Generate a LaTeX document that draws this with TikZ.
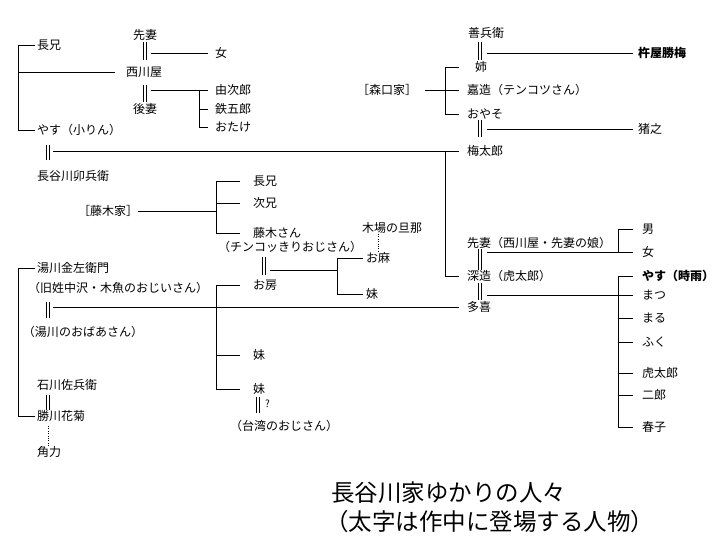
\documentclass[tikz,border=0pt]{standalone}
\usepackage{fontspec}
\setmainfont{Noto Sans CJK JP}
\begin{document}
\begin{tikzpicture}[x=1pt,y=-1pt,
  every node/.style={inner sep=0pt, outer sep=0pt, anchor=west,
    font=\fontsize{12}{14}\selectfont, text height=10.56pt, text depth=1.44pt},
  boldname/.style={font=\fontsize{12}{14}\selectfont\bfseries},
  qmark/.style={font=\fontsize{10}{11}\selectfont, text height=8.8pt, text depth=1.2pt},
  titletext/.style={font=\fontsize{23.5}{28}\selectfont, text height=20.7pt, text depth=2.8pt},
  ln/.style={line width=0.8pt},
  marr/.style={line width=0.7pt, double, double distance=1.9pt},
  dotln/.style={line width=1pt, dash pattern=on 1pt off 1.4pt},
]
\useasboundingbox[fill=white] (0,0) rectangle (720,540);

% ---------- nodes ----------
\node (choukei1) at (37,45) {長兄};
\node (nishikawaya) at (126,72) {西川屋};
\node (senzai1) at (133,35) {先妻};
\node (onna1) at (215,53) {女};
\node (gosai) at (133,109) {後妻};
\node (yujiro) at (215,90) {由次郎};
\node (tetsugoro) at (215,109) {鉄五郎};
\node (otake) at (215,127) {おたけ};
\node (yasu1) at (37,130) {やす（小りん）};
\node (uhee) at (37,176) {長谷川卯兵衛};

\node (zenbee) at (468,33) {善兵衛};
\node[boldname] (kineya) at (638,53) {杵屋勝梅};
\node (ane) at (475,67) {姉};
\node (moriguchi) at (357,90) {［森口家］};
\node (kazo) at (467,90) {嘉造（テンコツさん）};
\node (oyaso) at (467,114) {おやそ};
\node (ino) at (638,129) {猪之};
\node (umetaro) at (467,151) {梅太郎};

\node (fujikike) at (78,211) {［藤木家］};
\node (choukei2) at (253,181) {長兄};
\node (jikei) at (253,203) {次兄};
\node (fujikisan) at (253,233) {藤木さん};
\node (chinko) at (218,247) {（チンコッきりおじさん）};
\node (kiba) at (362,228) {木場の旦那};
\node (oasa) at (366,258) {お麻};
\node (imo1) at (366,294) {妹};
\node (ofusa) at (253,285) {お房};
\node (imo2) at (253,355) {妹};
\node (imo3) at (253,389) {妹};
\node[qmark] (q) at (265,404) {?};
\node (taiwan) at (230,426) {（台湾のおじさん）};

\node (yukawa) at (37,268) {湯川金左衛門};
\node (kyusei) at (28,288) {（旧姓中沢・木魚のおじいさん）};
\node (obaasan) at (23,332) {（湯川のおばあさん）};
\node (ishikawa) at (37,385) {石川佐兵衛};
\node (kagiku) at (37,416) {勝川花菊};
\node (sumo) at (37,452) {角力};

\node (senzai2) at (467,243) {先妻（西川屋・先妻の娘）};
\node (otoko) at (642,229) {男};
\node (onna2) at (642,252) {女};
\node (fukazo) at (467,276) {深造（虎太郎）};
\node (taki) at (467,307) {多喜};
\node[boldname] (yasu2) at (642,276) {やす（時雨）};
\node (matsu) at (642,295) {まつ};
\node (maru) at (642,318) {まる};
\node (fuku) at (642,342) {ふく};
\node (kotaro) at (642,373) {虎太郎};
\node (jiro) at (642,395) {二郎};
\node (haruko) at (642,427) {春子};

\node[titletext] (t1) at (331,493) {長谷川家ゆかりの人々};
\node[titletext] (t2) at (325,522) {（太字は作中に登場する人物）};

% ---------- junction coordinates ----------
\coordinate (b1) at (18,45);
\coordinate (m1) at (145,53);
\coordinate (m2) at (145,90);
\coordinate (j2) at (199,90);
\coordinate (m3) at (48,151);
\coordinate (m4) at (480,53);
\coordinate (jm) at (445,67);
\coordinate (m5) at (480,129);
\coordinate (jf) at (216,181);
\coordinate (m9) at (264,270);
\coordinate (jo) at (337,258);
\coordinate (jk) at (378,240);
\coordinate (m6) at (480,252);
\coordinate (j6) at (618,252);
\coordinate (m7) at (480,295);
\coordinate (jt) at (618,276);
\coordinate (jy) at (18,268);
\coordinate (m8) at (48,307);
\coordinate (js) at (216,285);
\coordinate (m10) at (48,402);
\coordinate (m11) at (258,405);

% ---------- Hasegawa siblings ----------
\draw[ln,shorten >=2pt] (b1) -- (choukei1.west);
\draw[ln,shorten >=2pt] (b1) |- (yasu1.west);
\draw[ln,shorten >=11pt] (b1 |- nishikawaya.west) -- (nishikawaya.west);

% Nishikawaya marriages
\draw[marr,shorten <=1pt,shorten >=6pt] (m1 |- senzai1.south) -- (m1 |- nishikawaya.north);
\draw[ln,shorten <=6pt,shorten >=7pt] (m1) -- (onna1.west);
\draw[marr,shorten <=7pt,shorten >=1pt] (m2 |- nishikawaya.south) -- (m2 |- gosai.north);
\draw[ln,shorten <=6pt] (m2) -- (j2);
\draw[ln,shorten >=7pt] (j2) -- (yujiro.west);
\draw[ln,shorten >=7pt] (j2 |- tetsugoro.west) -- (tetsugoro.west);
\draw[ln,shorten >=7pt] (j2) |- (otake.west);

% Yasu = Uhee
\draw[marr,shorten <=9pt,shorten >=10pt] (m3 |- yasu1.south) -- (m3 |- uhee.north);
\draw[ln,shorten <=5pt,shorten >=8pt] (m3) -- (umetaro.west);

% Zenbee = Ane
\draw[marr,shorten <=3pt,shorten >=1pt] (m4 |- zenbee.south) -- (m4 |- ane.north);
\draw[ln,shorten <=7pt,shorten >=5pt] (m4) -- (kineya.west);

% Moriguchi family
\draw[ln,shorten <=8pt] (moriguchi.east) -- (jm |- moriguchi.east);
\draw[ln,shorten >=16pt] (jm) -- (ane.west);
\draw[ln,shorten >=8pt] (jm |- kazo.west) -- (kazo.west);
\draw[ln,shorten >=8pt] (jm) |- (oyaso.west);

% Oyaso = Umetaro
\draw[marr,shorten >=8pt] (m5 |- oyaso.south) -- (m5 |- umetaro.north);
\draw[ln,shorten <=7pt,shorten >=5pt] (m5) -- (ino.west);

% Umetaro -> Fukazo
\draw[ln,shorten >=8pt] (jm |- umetaro.west) |- (fukazo.west);

% Fujiki family
\draw[ln] (fujikike.east) -- (jf |- fujikike.east);
\draw[ln,shorten >=13pt] (jf) -- (choukei2.west);
\draw[ln,shorten >=13pt] (jf |- jikei.west) -- (jikei.west);
\draw[ln,shorten >=13pt] (jf) |- (fujikisan.west);

% Fujiki = Ofusa
\draw[marr,shorten <=4pt,shorten >=4pt] (m9 |- chinko.south) -- (m9 |- ofusa.north);
\draw[ln,shorten <=6pt] (m9) -- (m9 -| jo);
\draw[ln,shorten >=3pt] (jo) -- (oasa.west);
\draw[ln,shorten >=3pt] (jo) |- (imo1.west);
\draw[dotln] (jk |- kiba.south) -- (jk |- oasa.north);

% Yukawa siblings
\draw[ln,shorten >=2pt] (jy) -- (yukawa.west);
\draw[ln,shorten >=2pt] (jy) |- (kagiku.west);

% Yukawa couple
\draw[marr,shorten <=8pt,shorten >=8pt] (m8 |- kyusei.south) -- (m8 |- obaasan.north);
\draw[ln,shorten <=5pt,shorten >=8pt] (m8) -- (taki.west);

% Ofusa and sisters
\draw[ln,shorten >=13pt] (js) -- (ofusa.west);
\draw[ln,shorten >=13pt] (js |- imo2.west) -- (imo2.west);
\draw[ln,shorten >=13pt] (js) |- (imo3.west);
\draw[marr,shorten <=2pt,shorten >=7pt] (m11 |- imo3.south) -- (m11 |- taiwan.north);

% Ishikawa = Kagiku
\draw[marr,shorten <=4pt] (m10 |- ishikawa.south) -- (m10 |- kagiku.north);
\draw[dotln,shorten <=4pt] (m10 |- kagiku.south) -- (m10 |- sumo.north);

% Senzai = Fukazo
\draw[marr] (m6 |- senzai2.south) -- (m6 |- fukazo.north);
\draw[ln,shorten <=7pt,shorten >=9pt] (m6) -- (onna2.west);
\draw[ln,shorten >=9pt] (j6) |- (otoko.west);

% Fukazo = Taki
\draw[marr,shorten <=1pt,shorten >=1pt] (m7 |- fukazo.south) -- (m7 |- taki.north);
\draw[ln,shorten <=7pt,shorten >=9pt] (m7) -- (matsu.west);
\draw[ln,shorten >=9pt] (jt) -- (yasu2.west);
\draw[ln,shorten >=9pt] (jt |- maru.west) -- (maru.west);
\draw[ln,shorten >=9pt] (jt |- fuku.west) -- (fuku.west);
\draw[ln,shorten >=9pt] (jt |- kotaro.west) -- (kotaro.west);
\draw[ln,shorten >=9pt] (jt |- jiro.west) -- (jiro.west);
\draw[ln,shorten >=9pt] (jt) |- (haruko.west);
\end{tikzpicture}
\end{document}
